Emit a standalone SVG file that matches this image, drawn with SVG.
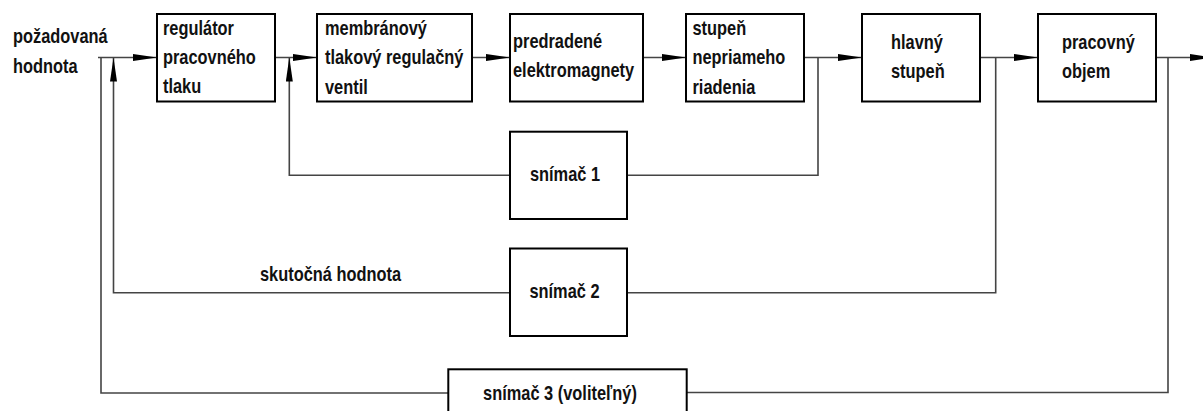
<svg xmlns="http://www.w3.org/2000/svg" width="1203" height="411" viewBox="0 0 1203 411">
<style>
.box{fill:#fff;stroke:#000;stroke-width:2}
.con{fill:none;stroke:#444;stroke-width:1.6}
.arr{marker-end:url(#ah)}
text{font-family:"Liberation Sans",Arial,sans-serif;font-weight:bold;font-size:20px;fill:#111}
.c{text-anchor:middle}
</style>
<defs>
<marker id="ah" markerUnits="userSpaceOnUse" markerWidth="25" markerHeight="8" refX="24" refY="3.5" orient="auto">
<path d="M0,0 L24,3.5 L0,7 Z" fill="#000"/>
</marker>
</defs>
<rect width="1203" height="411" fill="#fff"/>
<g id="connectors">
<path class="con arr" d="M98,57.5 H157"/>
<path class="con arr" d="M275,57.5 H317"/>
<path class="con arr" d="M472,57.5 H510"/>
<path class="con arr" d="M643,57.5 H686"/>
<path class="con arr" d="M804,57.5 H862"/>
<path class="con arr" d="M980,57.5 H1038"/>
<path class="con arr" d="M1156,57.5 H1214"/>
<path class="con" d="M818,57.5 V175.3 H627"/>
<path class="con arr" d="M510,175.3 H289.3 V57.5"/>
<path class="con" d="M995.7,57.5 V292.7 H627"/>
<path class="con arr" d="M510,292.7 H113.5 V57.5"/>
<path class="con" d="M1168,57.5 V392.5 H686.7"/>
<path class="con" d="M448.3,393 H101 V57.5"/>
</g>
<g id="label-input">
<g transform="scale(0.82,1)">
<text x="15.85" y="43">požadovaná</text>
<text x="15.85" y="73">hodnota</text>
</g>
</g>
<g id="label-actual">
<g transform="scale(0.82,1)">
<text x="317.07" y="281">skutočná hodnota</text>
</g>
</g>
<g id="regulator">
<rect class="box" x="157" y="14" width="118" height="87.5"/>
<g transform="scale(0.82,1)">
<text x="198.78" y="35">regulátor</text>
<text x="198.78" y="64">pracovného</text>
<text x="198.78" y="93">tlaku</text>
</g>
</g>
<g id="ventil">
<rect class="box" x="317" y="14" width="155" height="87.5"/>
<g transform="scale(0.82,1)">
<text x="396.34" y="35">membránový</text>
<text x="396.34" y="64">tlakový regulačný</text>
<text x="396.34" y="94">ventil</text>
</g>
</g>
<g id="elektromagnety">
<rect class="box" x="510" y="14" width="133" height="87.5"/>
<g transform="scale(0.82,1)">
<text x="625.61" y="48">predradené</text>
<text x="625.61" y="77">elektromagnety</text>
</g>
</g>
<g id="nepriamy">
<rect class="box" x="686" y="14" width="118" height="87.5"/>
<g transform="scale(0.82,1)">
<text x="844.51" y="35">stupeň</text>
<text x="844.51" y="64.5">nepriameho</text>
<text x="844.51" y="94">riadenia</text>
</g>
</g>
<g id="hlavny">
<rect class="box" x="862" y="14" width="118" height="87.5"/>
<g transform="scale(0.82,1)">
<text x="1086.59" y="49.5">hlavný</text>
<text x="1086.59" y="78.5">stupeň</text>
</g>
</g>
<g id="objem">
<rect class="box" x="1038" y="14" width="118" height="87.5"/>
<g transform="scale(0.82,1)">
<text x="1295.12" y="49.5">pracovný</text>
<text x="1295.12" y="78.5">objem</text>
</g>
</g>
<g id="snimac1">
<rect class="box" x="510" y="131.7" width="117" height="87.3"/>
<g transform="scale(0.82,1)">
<text class="c" x="689.02" y="181">snímač 1</text>
</g>
</g>
<g id="snimac2">
<rect class="box" x="510" y="248.5" width="117" height="87.5"/>
<g transform="scale(0.82,1)">
<text class="c" x="688.41" y="298">snímač 2</text>
</g>
</g>
<g id="snimac3">
<rect class="box" x="448.3" y="369.3" width="238.4" height="60"/>
<g transform="scale(0.82,1)">
<text class="c" x="682.93" y="400">snímač 3 (voliteľný)</text>
</g>
</g>
</svg>
